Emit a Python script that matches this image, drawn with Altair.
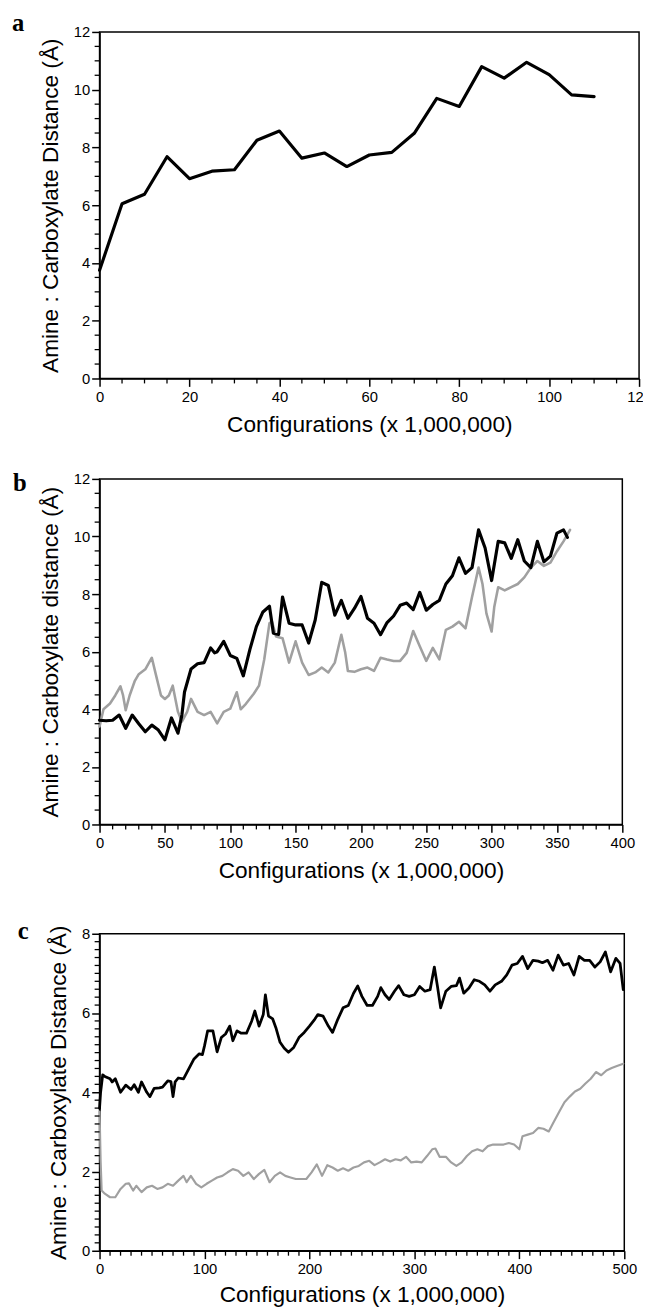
import altair as alt
import pandas as pd
import numpy as np

# ---------------- data ----------------
a_x = [0, 5, 10, 15, 20, 25, 30, 35, 40, 45, 50, 55, 60, 65, 70, 75, 80, 85, 90, 95, 100, 105, 110]
a_y = [3.75, 6.05, 6.38, 7.68, 6.92, 7.18, 7.23, 8.25, 8.57, 7.63, 7.81, 7.34, 7.74, 7.83, 8.49,
       9.70, 9.42, 10.80, 10.40, 10.95, 10.52, 9.82, 9.76]

b_black_x = [0, 5, 10, 15, 20, 25, 30, 35, 40, 45, 50, 55, 60, 63, 65, 70, 75, 80, 85, 88,
             90, 95, 100, 105, 110, 115, 120, 125, 130, 133, 137, 140, 145, 150, 155, 160, 165, 170, 175, 180,
             185, 190, 195, 200, 205, 210, 215, 220, 225, 230, 235, 240, 245, 250, 255, 260, 265, 270, 275, 280,
             285, 290, 295, 300, 305, 310, 315, 320, 325, 330, 335, 340, 345, 350, 355, 358]
b_black_y = [3.62, 3.60, 3.62, 3.80, 3.34, 3.80, 3.50, 3.22, 3.45, 3.28, 2.94, 3.70, 3.17, 3.80, 4.60, 5.40, 5.58, 5.62, 6.13, 5.96,
             6.00, 6.36, 5.87, 5.77, 5.16, 6.07, 6.87, 7.38, 7.58, 6.64, 6.60, 7.90, 6.99, 6.93, 6.93, 6.30, 7.10, 8.41, 8.30, 7.27,
             7.78, 7.16, 7.50, 7.92, 7.16, 6.99, 6.59, 7.01, 7.24, 7.61, 7.69, 7.46, 8.06, 7.44, 7.64, 7.78, 8.35, 8.64, 9.26, 8.72,
             8.92, 10.23, 9.60, 8.47, 9.83, 9.78, 9.24, 9.89, 9.15, 8.92, 9.83, 9.12, 9.32, 10.12, 10.23, 9.97]

b_gray_x = [0, 3, 8, 12, 16, 18, 20, 23, 27, 30, 35, 40, 43, 47, 50, 53, 56, 60, 63, 67,
            70, 75, 80, 85, 90, 95, 100, 105, 108, 112, 118, 122, 126, 130, 132, 135, 140, 145, 150, 155,
            160, 165, 170, 175, 180, 185, 188, 190, 195, 200, 205, 210, 215, 220, 225, 230, 235, 240, 245, 250,
            255, 260, 265, 270, 275, 280, 285, 290, 293, 296, 300, 302, 305, 310, 315, 320, 325, 330, 335, 340,
            345, 350, 355, 360]
b_gray_y = [3.40, 4.00, 4.20, 4.48, 4.80, 4.48, 3.97, 4.48, 4.99, 5.22, 5.39, 5.79, 5.22, 4.48, 4.36, 4.48, 4.82, 3.91, 3.57, 3.91,
            4.36, 3.91, 3.80, 3.91, 3.51, 3.91, 4.02, 4.59, 4.00, 4.19, 4.54, 4.82, 5.73, 6.99, 7.04, 6.53, 6.47, 5.62, 6.36, 5.62,
            5.19, 5.28, 5.45, 5.28, 5.62, 6.59, 5.96, 5.33, 5.30, 5.39, 5.45, 5.33, 5.79, 5.73, 5.68, 5.68, 5.96, 6.72, 6.19, 5.68,
            6.13, 5.73, 6.76, 6.87, 7.04, 6.81, 7.90, 8.92, 8.35, 7.33, 6.70, 7.55, 8.24, 8.13, 8.24, 8.35, 8.58, 8.92, 9.15, 8.98,
            9.09, 9.49, 9.83, 10.23]

c_black_x = [0, 1, 3, 5, 10, 12, 15, 20, 25, 30, 33, 37, 40, 45, 48, 52, 57, 60, 65, 68,
             70, 72, 75, 80, 85, 90, 95, 98, 100, 103, 108, 112, 116, 120, 124, 127, 131, 135, 140, 145,
             148, 152, 156, 158, 161, 165, 168, 172, 176, 180, 185, 190, 195, 200, 205, 208, 213, 218, 222, 227,
             232, 237, 242, 246, 250, 255, 260, 265, 268, 272, 276, 281, 285, 290, 295, 300, 305, 310, 315, 319,
             322, 325, 330, 335, 340, 343, 347, 352, 357, 362, 367, 372, 377, 383, 388, 393, 398, 403, 408, 413,
             418, 422, 427, 432, 437, 442, 447, 452, 457, 462, 467, 472, 477, 482, 487, 492, 496, 499]
c_black_y = [3.60, 4.00, 4.44, 4.40, 4.34, 4.26, 4.34, 4.00, 4.18, 4.07, 4.19, 4.00, 4.26, 4.00, 3.89, 4.10, 4.11, 4.13, 4.29, 4.27,
             3.89, 4.26, 4.36, 4.34, 4.59, 4.84, 4.97, 4.95, 5.17, 5.55, 5.55, 5.02, 5.38, 5.47, 5.67, 5.30, 5.55, 5.49, 5.49, 5.80,
             6.05, 5.67, 5.96, 6.46, 5.92, 5.85, 5.63, 5.26, 5.11, 5.01, 5.13, 5.38, 5.51, 5.67, 5.84, 5.96, 5.92, 5.67, 5.51, 5.84,
             6.13, 6.19, 6.50, 6.68, 6.42, 6.19, 6.19, 6.42, 6.64, 6.46, 6.34, 6.55, 6.69, 6.46, 6.42, 6.46, 6.67, 6.55, 6.59, 7.16,
             6.67, 6.13, 6.55, 6.67, 6.69, 6.88, 6.50, 6.63, 6.84, 6.80, 6.71, 6.55, 6.71, 6.80, 6.96, 7.21, 7.25, 7.43, 7.12, 7.33,
             7.31, 7.27, 7.33, 7.08, 7.46, 7.21, 7.25, 6.96, 7.43, 7.33, 7.33, 7.16, 7.29, 7.54, 7.04, 7.38, 7.25, 6.59]

c_gray_x = [0, 1, 2, 5, 10, 15, 20, 25, 28, 32, 35, 40, 45, 50, 55, 60, 65, 70, 75, 80,
            83, 87, 92, 97, 102, 107, 112, 117, 122, 127, 132, 137, 142, 147, 152, 157, 162, 167, 172, 177,
            182, 187, 192, 197, 202, 207, 212, 217, 222, 227, 232, 237, 242, 247, 252, 257, 262, 267, 272, 277,
            282, 287, 292, 297, 302, 307, 312, 317, 320, 324, 330, 335, 340, 345, 350, 355, 360, 365, 370, 375,
            380, 385, 390, 395, 400, 403, 408, 413, 418, 423, 428, 433, 438, 443, 448, 453, 458, 463, 468, 473,
            478, 483, 488, 493, 499]
c_gray_y = [3.51, 2.27, 1.52, 1.44, 1.35, 1.35, 1.56, 1.69, 1.70, 1.52, 1.64, 1.48, 1.60, 1.64, 1.56, 1.60, 1.69, 1.64, 1.77, 1.89,
            1.73, 1.89, 1.69, 1.60, 1.69, 1.77, 1.85, 1.89, 1.98, 2.06, 2.02, 1.89, 1.98, 1.81, 1.94, 2.04, 1.73, 1.89, 1.98, 1.89,
            1.85, 1.81, 1.81, 1.81, 1.98, 2.18, 1.89, 2.16, 2.10, 2.02, 2.08, 2.02, 2.10, 2.14, 2.23, 2.27, 2.16, 2.23, 2.31, 2.25,
            2.31, 2.28, 2.37, 2.23, 2.25, 2.23, 2.39, 2.56, 2.58, 2.37, 2.37, 2.23, 2.14, 2.23, 2.39, 2.51, 2.56, 2.51, 2.64, 2.68,
            2.68, 2.68, 2.72, 2.68, 2.56, 2.89, 2.93, 2.97, 3.10, 3.08, 3.01, 3.26, 3.51, 3.75, 3.89, 4.02, 4.09, 4.22, 4.34, 4.51,
            4.43, 4.55, 4.61, 4.66, 4.72]

# tick labels
a_xticks = [0, 20, 40, 60, 80, 100, 120]
b_xticks = [0, 50, 100, 150, 200, 250, 300, 350, 400]
c_xticks = [0, 100, 200, 300, 400, 500]
ab_yticks = [0, 2, 4, 6, 8, 10, 12]
c_yticks = [0, 2, 4, 6, 8]

X_TITLE = "Configurations (x 1,000,000)"
SANS = "Liberation Sans"
NARROW = "Liberation Sans Narrow, Liberation Sans"
BLACK = "#000000"
GRAY = "#a0a0a0"
PLOT_LEFT = 100   # page x of every plot's left edge
LEFT_EXT = 92     # distance from plot left to the page box left


def panel(series, xmax, xticks, xminor_step, ymax, yticks, yminor_step,
          W, H, ytitle, label, lab_x_abs, lab_base, title_pad, top_ext, bottom_ext, right_ext=0):
    xs = alt.Scale(domain=[0, xmax], nice=False, zero=False)
    ys = alt.Scale(domain=[0, ymax], nice=False, zero=False)
    xax = alt.Axis(values=xticks, title=X_TITLE, tickSize=8, labelPadding=3,
                   titlePadding=title_pad, format="d", labelOverlap=False, labelFlush=False)
    yax = alt.Axis(values=yticks, title=ytitle, tickSize=8, labelPadding=2,
                   titlePadding=11, format="d", labelOverlap=False, labelFlush=False)
    layers = []
    for xv, yv, color, sw in series:
        df = pd.DataFrame({"x": xv, "y": yv})
        layers.append(
            alt.Chart(df).mark_line(color=color, strokeWidth=sw, strokeJoin="round", strokeCap="round")
            .encode(x=alt.X("x:Q", scale=xs, axis=xax), y=alt.Y("y:Q", scale=ys, axis=yax))
        )
    # minor ticks (axis decoration)
    xm = [float(v) for v in np.arange(0, xmax + 1e-9, xminor_step) if all(abs(v - t) > 1e-6 for t in xticks)]
    ym = [round(float(v), 3) for v in np.arange(0, ymax + 1e-9, yminor_step) if all(abs(v - t) > 1e-6 for t in yticks)]
    layers.append(
        alt.Chart(pd.DataFrame({"v": xm})).mark_rule(color=BLACK, strokeWidth=1.3)
        .encode(x=alt.X("v:Q", scale=xs, axis=xax), y=alt.value(H), y2=alt.value(H + 5))
    )
    layers.append(
        alt.Chart(pd.DataFrame({"v": ym})).mark_rule(color=BLACK, strokeWidth=1.3)
        .encode(y=alt.Y("v:Q", scale=ys, axis=yax), x=alt.value(0), x2=alt.value(-5))
    )
    # panel letter
    layers.append(
        alt.Chart(pd.DataFrame({"t": [label]})).mark_text(
            font="Liberation Serif", fontWeight="bold", fontSize=25, align="left",
            baseline="alphabetic", color=BLACK)
        .encode(text="t:N", x=alt.value(lab_x_abs - PLOT_LEFT), y=alt.value(lab_base))
    )
    # invisible anchors: they fix each panel's box so the spacing is exact
    anchor_df = pd.DataFrame({"t": [0, 1]})
    layers.append(
        alt.Chart(pd.DataFrame({"t": [0]})).mark_rule(opacity=0, strokeWidth=0.01)
        .encode(x=alt.value(-LEFT_EXT), y=alt.value(-top_ext),
                x2=alt.value(W + right_ext), y2=alt.value(-top_ext))
    )
    layers.append(
        alt.Chart(pd.DataFrame({"t": [0]})).mark_rule(opacity=0, strokeWidth=0.01)
        .encode(x=alt.value(-LEFT_EXT), y=alt.value(H + bottom_ext),
                x2=alt.value(-LEFT_EXT + 1), y2=alt.value(H + bottom_ext))
    )
    return alt.layer(*layers).properties(width=W, height=H)


WA, HA = 548, 352
WB, HB = 531, 351
WC, HC = 533, 322

# page rows: a plot 21..373, b plot 473..824, c plot 933..1255
pa = panel([(a_x, a_y, BLACK, 3.2)], 120, a_xticks, 5, 12, ab_yticks, 0.5,
           WA, HA, "Amine : Carboxylate Distance (Å)", "a", 11, -1, 10,
           top_ext=30, bottom_ext=62, right_ext=20)
pb = panel([(b_gray_x, b_gray_y, GRAY, 2.6), (b_black_x, b_black_y, BLACK, 3.2)], 400, b_xticks, 10, 12, ab_yticks, 0.5,
           WB, HB, "Amine : Carboxylate distance (Å)", "b", 12, 12, 10,
           top_ext=30, bottom_ext=62)
pc = panel([(c_gray_x, c_gray_y, GRAY, 2.2), (c_black_x, c_black_y, BLACK, 2.8)], 500, c_xticks, 10, 8, c_yticks, 0.2,
           WC, HC, "Amine : Carboxylate Distance (Å)", "c", 17, 5, 8,
           top_ext=39, bottom_ext=59)

chart = (
    alt.vconcat(pa, pb, pc, spacing=8)
    .properties(padding={"left": 0, "top": -17, "right": -17, "bottom": 0})
    .configure_view(stroke=BLACK, strokeWidth=1.5)
    .configure_axis(domainColor=BLACK, domainWidth=1.5, tickColor=BLACK, tickWidth=1.5,
                    labelColor=BLACK, titleColor=BLACK, labelFont=NARROW, labelFontSize=15,
                    titleFont=SANS, titleFontSize=23, titleFontWeight="normal", grid=False)
)

chart.save("out.html", embed_options={"renderer": "svg", "actions": False})
